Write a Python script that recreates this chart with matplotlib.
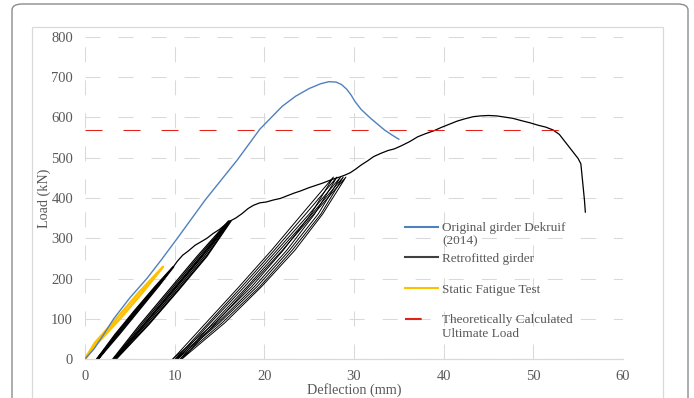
import matplotlib
matplotlib.use("Agg")
import matplotlib.pyplot as plt
from matplotlib.patches import FancyBboxPatch, Rectangle
from matplotlib.lines import Line2D

plt.rcParams['font.family'] = ['Liberation Serif', 'DejaVu Serif']
plt.rcParams['font.size'] = 9.5

GRAY_TXT = '#595959'
GRID = '#d9d9d9'

# original girder (Dekruif 2014)
blue_x = [0, 1, 2, 3.2, 5, 6.9, 8.5, 10.3, 13.4, 17, 19.5, 22, 23.5, 25, 26.3, 27.2,
          28.0, 28.6, 29.2, 29.7, 30.1, 30.8, 31.8, 32.6, 33.4, 34.2, 35.0]
blue_y = [0, 25, 58, 100, 152, 200, 246, 300, 395, 495, 571, 628, 653, 672, 684, 689,
          688, 682, 670, 655, 640, 620, 599, 584, 569, 557, 546]

# static fatigue test (load / unload)
yel_load = [0, 40, 100, 165, 229]
yel_up = [0, 1.4, 3.9, 6.4, 8.7]
yel_down = [0, 1.1, 3.5, 6.0, 8.7]

# retrofitted girder: cycles, x at given load levels (up branch, down branch)
g1_load = [0, 60, 120, 180, 229]
g1_up = [[1.3, 3.6, 5.8, 8.0, 9.8], [1.4, 3.7, 5.9, 8.1, 9.85], [1.5, 3.8, 6.0, 8.2, 9.9]]
g1_down = [[1.3, 3.3, 5.5, 7.8, 9.8], [1.4, 3.4, 5.6, 7.9, 9.85], [1.5, 3.5, 5.7, 8.0, 9.9]]

g2_load = [0, 85, 170, 255, 343]
g2_up = [[3.2, 6.6, 9.9, 13.1, 16.0], [3.3, 6.8, 10.1, 13.3, 16.1],
         [3.4, 7.0, 10.3, 13.5, 16.2], [3.5, 7.1, 10.4, 13.6, 16.3]]
g2_down = [[3.1, 6.1, 9.3, 12.5, 16.0], [3.2, 6.3, 9.5, 12.7, 16.1],
           [3.3, 6.5, 9.7, 12.9, 16.2], [3.4, 6.6, 9.8, 13.0, 16.3]]

g3_load = [0, 90, 180, 270, 360, 452]
g3_up = [[9.8, 14.5, 18.6, 22.1, 25.2, 27.7], [10.1, 14.8, 18.9, 22.5, 25.6, 28.1],
         [10.3, 15.0, 19.2, 22.8, 26.0, 28.5], [10.6, 15.3, 19.5, 23.1, 26.3, 28.8],
         [10.8, 15.6, 19.7, 23.4, 26.5, 29.1]]
g3_down = [[9.8, 13.5, 17.2, 20.8, 24.2, 27.7], [10.1, 13.8, 17.5, 21.1, 24.6, 28.1],
           [10.3, 14.0, 17.8, 21.4, 25.0, 28.5], [10.6, 14.3, 18.1, 21.7, 25.3, 28.8],
           [10.8, 14.6, 18.3, 22.0, 25.5, 29.1]]

env_x = [9.85, 10.3, 10.9, 11.5, 12.3, 13.0, 13.6, 14.3, 15.0, 15.6, 16.2, 16.8, 17.5,
         18.2, 18.8, 19.5, 20.2, 21.0, 21.8, 22.6, 23.3, 24.1, 24.9, 25.7, 26.5, 27.2,
         27.8, 28.4, 29.0, 29.6, 30.2, 30.8, 31.5, 32.2, 33.0, 33.8, 34.5, 35.3, 36.2,
         37.1, 38.0, 38.9, 39.7, 40.6, 41.5, 42.4, 43.3, 44.1, 45.0, 45.9, 46.8, 47.7,
         48.7, 49.6, 50.5, 51.4, 52.2, 52.9, 53.6, 54.3, 55.0, 55.3, 55.5, 55.7, 55.8]
env_y = [229, 243, 258, 268, 283, 292, 300, 312, 322, 333, 343, 350, 361,
         374, 382, 388, 390, 395, 399, 406, 412, 418, 425, 431, 437, 443,
         448, 452, 457, 463, 472, 482, 492, 503, 511, 518, 522, 530, 540,
         552, 560, 567, 575, 583, 591, 597, 602, 604, 605, 604, 601, 598,
         592, 587, 581, 576, 569, 558, 538, 518, 498, 485, 440, 395, 365]

theo_x = [0, 54]
theo_load = 570

x_ticks = [0, 10, 20, 30, 40, 50, 60]
y_ticks = [0, 100, 200, 300, 400, 500, 600, 700, 800]

W, H = 694, 398
fig = plt.figure(figsize=(W / 100, H / 100), dpi=100)

# chart frames (behind the axes)
fig.add_artist(FancyBboxPatch((12 / W, -0.2), 676 / W, (394 / H) + 0.2,
                              boxstyle="round,pad=0,rounding_size=0.015",
                              transform=fig.transFigure, fc='white', ec='#8c8c8c',
                              lw=1.0, zorder=-2))
fig.add_artist(Rectangle((32 / W, -0.2), 631 / W, (371 / H) + 0.2,
                         transform=fig.transFigure, fc='none', ec=GRID, lw=0.9,
                         zorder=-1))

ax = fig.add_axes([85 / W, (H - 359) / H, 538 / W, 322 / H])
ax.patch.set_alpha(0)


def cycle_path(up, down, loads):
    xs = list(up) + list(reversed(down))
    ys = list(loads) + list(reversed(loads))
    return xs, ys


for up, down in zip(g1_up, g1_down):
    xs, ys = cycle_path(up, down, g1_load)
    ax.plot(xs, ys, color='black', lw=0.9)
for up, down in zip(g2_up, g2_down):
    xs, ys = cycle_path(up, down, g2_load)
    ax.plot(xs, ys, color='black', lw=0.9)
for up, down in zip(g3_up, g3_down):
    xs, ys = cycle_path(up, down, g3_load)
    ax.plot(xs, ys, color='black', lw=0.7)
ax.plot(env_x, env_y, color='black', lw=0.9)

xs, ys = cycle_path(yel_up, yel_down, yel_load)
ax.plot(xs, ys, color='#ffc000', lw=1.8)

ax.plot(blue_x, blue_y, color='#4f81bd', lw=1.0)

ax.plot(theo_x, [theo_load, theo_load], color='#e32119', lw=0.75,
        linestyle=(0, (16.3, 20.2)))

ax.set_xlim(0, 60)
ax.set_ylim(0, 800)
ax.set_xticks(x_ticks)
ax.set_yticks(y_ticks)
ax.grid(True, color=GRID, lw=0.75, linestyle=(0, (14.4, 17.3)))
ax.set_axisbelow(True)
for s in ['top', 'right', 'left']:
    ax.spines[s].set_visible(False)
ax.spines['bottom'].set_color(GRID)
ax.spines['bottom'].set_linewidth(0.9)
ax.tick_params(axis='both', length=0, colors=GRAY_TXT, labelsize=10.5)
ax.tick_params(axis='x', pad=8)
ax.tick_params(axis='y', pad=8.6)

ax.set_xlabel('Deflection (mm)', color=GRAY_TXT, fontsize=10.2)
ax.xaxis.set_label_coords(0.5, -0.075)
ax.xaxis.label.set_va('top')
ax.set_ylabel('Load (kN)', color=GRAY_TXT, fontsize=10.2)
ax.yaxis.set_label_coords(-0.064, 0.5)

# legend
handles = [Line2D([], [], color='#4f81bd', lw=1.5),
           Line2D([], [], color='#404040', lw=1.5),
           Line2D([], [], color='#ffc000', lw=1.5),
           Line2D([], [], color='#e32119', lw=1.5, linestyle=(0, (8, 100)))]
labels = ['Original girder Dekruif', 'Retrofitted girder', 'Static Fatigue Test',
          'Theoretically Calculated']
leg = ax.legend(handles, labels, loc='upper left', frameon=False,
                bbox_to_anchor=(396 / W, (H - 213) / H), bbox_transform=fig.transFigure,
                handlelength=2.45, handletextpad=0.33, labelspacing=1.39,
                borderpad=0.2, fontsize=9.5)
for t in leg.get_texts():
    t.set_color(GRAY_TXT)
fig.text(442 / W, (H - 241) / H, '(2014)', color=GRAY_TXT, fontsize=9.5, va='center')
fig.text(442 / W, (H - 334) / H, 'Ultimate Load', color=GRAY_TXT, fontsize=9.5, va='center')

fig.savefig('out.png', dpi=100)
